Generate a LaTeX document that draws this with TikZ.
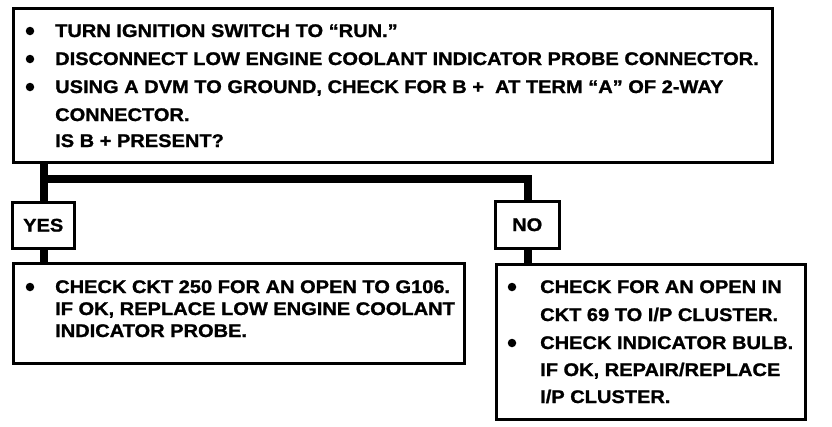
\documentclass[tikz,border=0pt]{standalone}
\usepackage{fontspec}
\newfontfamily\diafont[FakeStretch=1.095,FakeBold=1.2]{Liberation Sans}
\tikzset{
  box/.style={draw=black, line width=2.5pt, rectangle, inner sep=0pt, anchor=north west},
  trunk/.style={draw=black, line width=8pt, line join=miter},
  txt/.style={anchor=base west, inner sep=0pt, font=\diafont\bfseries\fontsize{18.3}{21}\selectfont},
  lbl/.style={inner sep=0pt, font=\diafont\bfseries\fontsize{18.3}{21}\selectfont},
  bul/.style={circle, fill=black, inner sep=0pt, minimum size=8.5pt}
}
\begin{document}
\begin{tikzpicture}[x=1pt,y=-1pt]
\useasboundingbox (0,0) rectangle (832,426);
% boxes
\node[box, minimum width=759pt, minimum height=154pt] (top) at (12,7) {};
\node[box, minimum width=62pt, minimum height=46pt] (yes) at (11,201) {};
\node[box, minimum width=64pt, minimum height=47pt] (no) at (494,200) {};
\node[box, minimum width=451pt, minimum height=100pt] (lbox) at (12,262) {};
\node[box, minimum width=309pt, minimum height=155pt] (rbox) at (495,263) {};
% labels
\node[lbl] (yest) at (yes.center) {YES};
\node[lbl] (not) at (no.center) {NO};
% connectors
\coordinate (jL) at (44,179);
\coordinate (jR) at (528,179);
\draw[trunk] (top.south -| jL) -- (yes.north -| jL);
\draw[trunk] (jL) -- (jR) -- (no.north -| jR);
\draw[trunk] (yes.south -| jL) -- (lbox.north -| jL);
\draw[trunk] (no.south -| jR) -- (rbox.north -| jR);
% top text
\node[bul] (tb1) at (30,31) {};
\node[bul] (tb2) at (30,59) {};
\node[bul] (tb3) at (30,87) {};
\node[txt] (t1) at (55,37) {TURN IGNITION SWITCH TO “RUN.”};
\node[txt] (t2) at (55,65) {DISCONNECT LOW ENGINE COOLANT INDICATOR PROBE CONNECTOR.};
\node[txt] (t3) at (55,93) {USING A DVM TO GROUND, CHECK FOR B +\ \ AT TERM “A” OF 2-WAY};
\node[txt] (t4) at (55,121) {CONNECTOR.};
\node[txt] (t5) at (55,147) {IS B + PRESENT?};
% left lower text
\node[bul] (lb1) at (30,287) {};
\node[txt] (l1) at (55,293) {CHECK CKT 250 FOR AN OPEN TO G106.};
\node[txt] (l2) at (55,315) {IF OK, REPLACE LOW ENGINE COOLANT};
\node[txt] (l3) at (55,337) {INDICATOR PROBE.};
% right lower text
\node[bul] (rb1) at (512,287) {};
\node[bul] (rb2) at (512,343) {};
\node[txt] (r1) at (540,293) {CHECK FOR AN OPEN IN};
\node[txt] (r2) at (540,321) {CKT 69 TO I/P CLUSTER.};
\node[txt] (r3) at (540,349) {CHECK INDICATOR BULB.};
\node[txt] (r4) at (540,376) {IF OK, REPAIR/REPLACE};
\node[txt] (r5) at (540,403) {I/P CLUSTER.};
\end{tikzpicture}
\end{document}
